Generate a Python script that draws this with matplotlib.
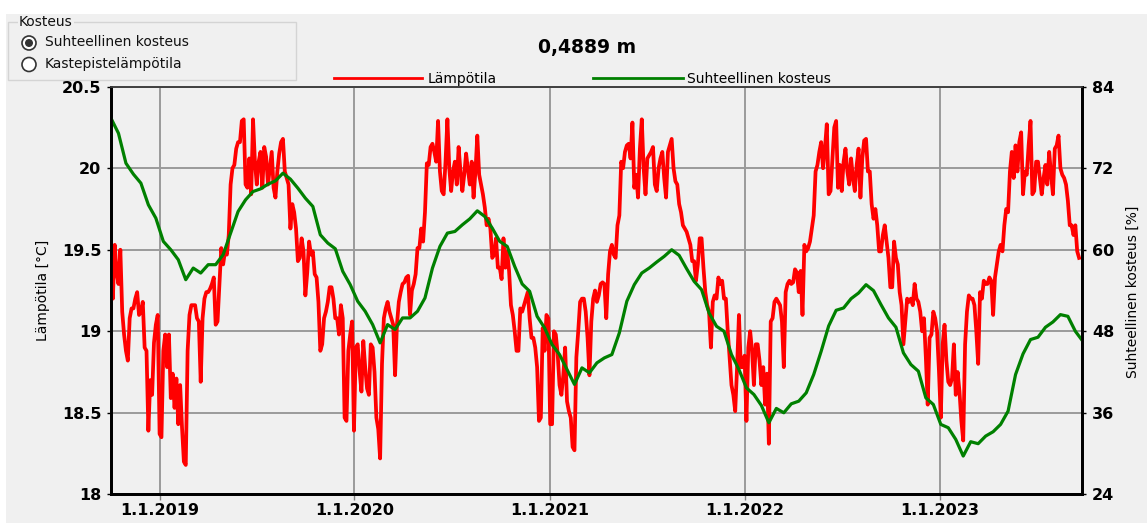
import matplotlib.pyplot as plt
import numpy as np
from matplotlib.patches import Rectangle, Circle
from matplotlib.lines import Line2D

# aikajakso (x-akseli)
alku = np.datetime64('2018-10-02')
loppu = np.datetime64('2023-09-25')

# lämpötila puolen viikon (3,5 vrk) välein [°C]
lampotila = [
    19.45, 19.20, 19.53, 19.36, 19.29, 19.50, 19.12, 18.98, 18.88, 18.82,
    19.08, 19.14, 19.14, 19.20, 19.24, 19.10, 19.12, 19.18, 18.90, 18.88,
    18.39, 18.70, 18.61, 18.93, 19.04, 19.10, 18.37, 18.35, 18.88, 18.98,
    18.78, 18.98, 18.59, 18.74, 18.53, 18.71, 18.43, 18.67, 18.41, 18.20,
    18.18, 18.88, 19.10, 19.16, 19.16, 19.16, 19.08, 19.06, 18.69, 19.08,
    19.20, 19.24, 19.24, 19.26, 19.29, 19.33, 19.04, 19.06, 19.29, 19.51,
    19.41, 19.49, 19.47, 19.59, 19.90, 20.00, 20.02, 20.12, 20.16, 20.16,
    20.29, 20.30, 19.90, 19.88, 20.06, 19.84, 20.30, 20.04, 19.90, 20.04,
    20.10, 19.88, 20.13, 20.07, 19.90, 20.00, 20.10, 19.88, 19.82, 19.98,
    20.09, 20.16, 20.18, 19.98, 19.94, 19.90, 19.63, 19.78, 19.73, 19.63,
    19.43, 19.45, 19.57, 19.49, 19.22, 19.36, 19.55, 19.47, 19.49, 19.35,
    19.33, 19.18, 18.88, 18.92, 19.08, 19.12, 19.18, 19.27, 19.27, 19.20,
    19.08, 19.08, 18.98, 19.16, 19.08, 18.47, 18.45, 18.88, 18.98, 19.06,
    18.39, 18.90, 18.92, 18.76, 18.63, 18.94, 18.78, 18.65, 18.61, 18.92,
    18.90, 18.75, 18.47, 18.40, 18.22, 18.80, 19.08, 19.14, 19.18, 19.12,
    19.08, 19.04, 18.73, 19.04, 19.18, 19.24, 19.29, 19.30, 19.33, 19.34,
    19.10, 19.25, 19.29, 19.35, 19.51, 19.51, 19.63, 19.55, 19.73, 20.03,
    20.02, 20.13, 20.15, 20.10, 20.04, 20.29, 19.98, 19.86, 19.84, 20.04,
    20.30, 20.00, 19.86, 19.98, 20.04, 19.90, 20.13, 19.98, 19.86, 19.96,
    20.09, 19.99, 19.90, 20.04, 19.82, 19.98, 20.20, 19.96, 19.90, 19.84,
    19.76, 19.65, 19.69, 19.63, 19.45, 19.47, 19.57, 19.39, 19.39, 19.32,
    19.57, 19.39, 19.49, 19.37, 19.16, 19.10, 19.00, 18.88, 18.88, 19.14,
    19.12, 19.16, 19.20, 19.24, 19.08, 18.96, 18.96, 18.90, 18.78, 18.45,
    18.47, 19.02, 18.88, 19.10, 19.08, 18.43, 18.43, 19.00, 18.98, 18.86,
    18.67, 18.61, 18.73, 18.90, 18.57, 18.51, 18.47, 18.29, 18.27, 18.84,
    19.00, 19.18, 19.20, 19.20, 19.12, 18.96, 18.73, 19.06, 19.20, 19.25,
    19.18, 19.22, 19.29, 19.30, 19.29, 19.08, 19.35, 19.49, 19.53, 19.47,
    19.45, 19.65, 19.71, 20.04, 20.00, 20.10, 20.14, 20.15, 20.06, 20.28,
    19.88, 19.96, 19.82, 20.12, 20.30, 20.00, 19.84, 20.06, 20.08, 20.10,
    20.13, 19.90, 19.86, 20.00, 20.06, 20.10, 19.94, 19.82, 20.10, 20.14,
    20.18, 20.00, 19.92, 19.90, 19.78, 19.73, 19.65, 19.63, 19.61, 19.57,
    19.53, 19.43, 19.43, 19.31, 19.41, 19.57, 19.57, 19.39, 19.24, 19.16,
    19.12, 18.90, 19.18, 19.22, 19.20, 19.33, 19.29, 19.31, 19.20, 19.20,
    19.00, 18.84, 18.67, 18.61, 18.51, 18.78, 19.10, 18.78, 18.78, 18.85,
    18.45, 18.90, 19.00, 18.88, 18.67, 18.92, 18.92, 18.82, 18.67, 18.78,
    18.55, 18.74, 18.31, 19.06, 19.08, 19.18, 19.20, 19.18, 19.16, 19.06,
    18.78, 19.24, 19.29, 19.31, 19.29, 19.30, 19.38, 19.36, 19.24, 19.37,
    19.10, 19.53, 19.49, 19.51, 19.55, 19.63, 19.71, 19.98, 20.02, 20.10,
    20.16, 20.00, 20.12, 20.27, 19.84, 19.86, 20.06, 20.25, 20.29, 19.88,
    20.02, 19.86, 20.04, 20.12, 19.98, 19.90, 20.06, 19.94, 19.86, 20.02,
    20.12, 19.82, 20.06, 20.17, 20.18, 19.98, 19.98, 19.78, 19.69, 19.75,
    19.65, 19.49, 19.49, 19.59, 19.65, 19.55, 19.45, 19.27, 19.27, 19.55,
    19.45, 19.41, 19.24, 19.16, 18.92, 19.06, 19.20, 19.18, 19.20, 19.16,
    19.29, 19.20, 19.18, 19.12, 19.00, 19.08, 18.84, 18.55, 18.96, 18.98,
    19.12, 19.08, 19.00, 18.76, 18.47, 18.92, 19.04, 18.82, 18.69, 18.67,
    18.71, 18.92, 18.61, 18.75, 18.63, 18.45, 18.33, 18.92, 19.12, 19.22,
    19.20, 19.20, 19.16, 19.00, 18.80, 19.24, 19.20, 19.31, 19.29, 19.29,
    19.33, 19.31, 19.10, 19.33, 19.41, 19.49, 19.53, 19.49, 19.65, 19.75,
    19.73, 19.98, 20.10, 19.94, 20.14, 19.98, 20.16, 20.22, 19.84, 19.98,
    19.96, 20.14, 20.29, 19.84, 19.86, 20.04, 20.04, 19.94, 19.84, 19.94,
    20.02, 19.90, 20.10, 19.96, 19.84, 20.12, 20.14, 20.20, 20.00, 19.96,
    19.94, 19.90, 19.80, 19.65, 19.65, 19.59, 19.65, 19.49, 19.45,
]

# suhteellinen kosteus kahden viikon välein [%]
kosteus = [
    79.35, 77.14, 72.73, 71.12, 69.80, 66.61, 64.65, 61.23, 60.00, 58.53,
    55.59, 57.30, 56.57, 57.80, 57.80, 59.27, 62.45, 65.63, 67.35, 68.57,
    68.96, 69.65, 70.14, 71.27, 70.39, 69.06, 67.59, 66.37, 62.20, 60.98,
    60.15, 56.82, 54.86, 52.41, 50.94, 48.98, 46.29, 48.98, 48.25, 49.96,
    49.96, 50.94, 52.90, 57.30, 60.49, 62.45, 62.69, 63.67, 64.55, 65.73,
    64.90, 63.18, 61.23, 60.49, 57.55, 54.96, 53.88, 50.20, 48.49, 46.04,
    44.57, 42.37, 40.17, 42.61, 41.88, 43.35, 44.08, 44.57, 47.76, 52.41,
    54.86, 56.57, 57.31, 58.19, 59.02, 60.00, 59.17, 57.21, 55.35, 54.12,
    50.69, 48.73, 48.00, 44.57, 42.37, 39.67, 38.69, 37.08, 34.53, 36.64,
    36.00, 37.32, 37.71, 38.94, 41.63, 45.06, 48.78, 51.09, 51.43, 52.80,
    53.63, 54.86, 53.98, 51.92, 49.96, 48.59, 44.82, 43.10, 42.12, 38.20,
    37.22, 34.29, 33.80, 32.08, 29.63, 31.74, 31.45, 32.57, 33.21, 34.29,
    36.24, 41.63, 44.67, 46.78, 47.12, 48.59, 49.37, 50.45, 50.20, 48.00,
    46.53,
]

vuodet = np.array(['2019-01-01', '2020-01-01', '2021-01-01', '2022-01-01', '2023-01-01'],
                  dtype='datetime64[D]')
vuosi_labels = ['1.1.2019', '1.1.2020', '1.1.2021', '1.1.2022', '1.1.2023']
temp_ticks = [18, 18.5, 19, 19.5, 20, 20.5]
temp_labels = ['18', '18.5', '19', '19.5', '20', '20.5']
rh_ticks = [24, 36, 48, 60, 72, 84]

paivat_t = alku + np.arange(len(lampotila)) * np.timedelta64(84, 'h')
paivat_k = alku + np.arange(len(kosteus)) * np.timedelta64(14, 'D')

W, H = 1147, 523
fig = plt.figure(figsize=(W / 100, H / 100), dpi=100)
fig.patch.set_facecolor('white')

# taustakerros pikselikoordinaateissa (lomakkeen harmaa pohja, ryhmälaatikko, selite)
bg = fig.add_axes([0, 0, 1, 1], zorder=-1)
bg.set_xlim(0, W)
bg.set_ylim(H, 0)
bg.axis('off')
bg.add_patch(Rectangle((6, 14), W - 6, H - 14, facecolor='#f0f0f0', edgecolor='none'))
bg.add_patch(Rectangle((8, 22), 288, 58, fill=False, edgecolor='#d4d4d4', lw=1))
bg.text(19, 22, 'Kosteus', fontsize=10, va='center', ha='left', color='#111111',
        bbox=dict(facecolor='#f0f0f0', edgecolor='none', pad=1))
bg.add_patch(Circle((29, 43), 7, facecolor='white', edgecolor='#333333', lw=1.2))
bg.add_patch(Circle((29, 43), 4, facecolor='#333333', edgecolor='none'))
bg.add_patch(Circle((29, 64.5), 7, facecolor='white', edgecolor='#333333', lw=1.2))
bg.text(45, 42.5, 'Suhteellinen kosteus', fontsize=10, va='center', color='#111111')
bg.text(45, 64, 'Kastepistelämpötila', fontsize=10, va='center', color='#111111')

bg.text(587, 48, '0,4889 m', fontsize=13.5, fontweight='bold', ha='center', va='center')
bg.add_line(Line2D([334, 422], [78, 78], color='#ff0000', lw=2))
bg.text(428, 79, 'Lämpötila', fontsize=10, va='center')
bg.add_line(Line2D([593, 683], [78, 78], color='#008000', lw=2))
bg.text(687, 79, 'Suhteellinen kosteus', fontsize=10, va='center')

bg.text(43, 290, 'Lämpötila [°C]', fontsize=10, rotation=90, ha='center', va='center')
bg.text(1133, 292, 'Suhteellinen kosteus [%]', fontsize=10, rotation=90,
        ha='center', va='center')

# itse kuvaaja
ax = fig.add_axes([111 / W, 1 - 494.3 / H, (1082.3 - 111) / W, (494.3 - 86.7) / H])
ax.set_facecolor('#f0f0f0')
ax.plot(paivat_t, lampotila, color='#ff0000', lw=2.7, zorder=3)
ax.set_xlim(alku, loppu)
ax.set_ylim(18, 20.5)
ax.set_xticks(vuodet, vuosi_labels, fontsize=11.5, fontweight='bold')
ax.set_yticks(temp_ticks, temp_labels, fontsize=11.5, fontweight='bold')
ax.grid(True, color='#9a9a9a', lw=1.4)
ax.set_axisbelow(True)
ax.tick_params(axis='x', length=4, width=1, color='#808080', pad=2)
ax.tick_params(axis='y', length=3, width=1, pad=4)

ax2 = ax.twinx()
ax2.plot(paivat_k, kosteus, color='#008000', lw=2.3)
ax2.set_ylim(24, 84)
ax2.set_yticks(rh_ticks, [str(t) for t in rh_ticks], fontsize=11.5, fontweight='bold')
ax2.tick_params(axis='y', length=3, width=1, pad=4)

for a in (ax, ax2):
    for s in ('left', 'bottom', 'right'):
        a.spines[s].set_linewidth(2)
        a.spines[s].set_color('black')
    a.spines['top'].set_linewidth(1.2)
    a.spines['top'].set_color('#404040')

plt.savefig('out.png', dpi=100, facecolor=fig.get_facecolor())
